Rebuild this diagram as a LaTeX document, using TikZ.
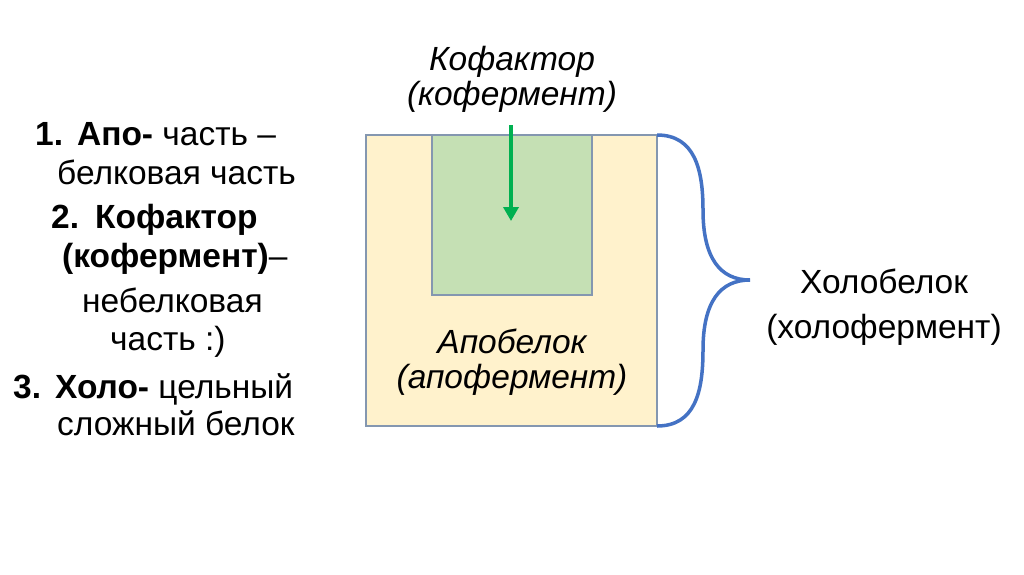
\documentclass[tikz,border=0pt]{standalone}
\usepackage{fontspec}
\setmainfont{Liberation Sans}
\usetikzlibrary{arrows.meta}
\definecolor{boxyellow}{HTML}{FFF2CC}
\definecolor{boxgreen}{HTML}{C5E0B4}
\definecolor{boxline}{HTML}{8497B0}
\definecolor{arrowgreen}{HTML}{00B050}
\definecolor{braceblue}{HTML}{4472C4}
\tikzset{
  listline/.style={anchor=base west, inner sep=0pt, font=\fontsize{33.5}{40}\selectfont},
  italabel/.style={anchor=base, inner sep=0pt, font=\fontsize{33.5}{40}\selectfont\itshape},
  sidelabel/.style={anchor=base, inner sep=0pt, font=\fontsize{33.5}{40}\selectfont},
}
\begin{document}
\begin{tikzpicture}[x=1pt,y=-1pt]
\useasboundingbox (0,0) rectangle (1024,574);
\fill[white] (0,0) rectangle (1024,574);
% boxes
\draw[boxline, line width=1.2pt, fill=boxyellow] (366,135) rectangle (657,426);
\draw[boxline, line width=1.2pt, fill=boxgreen] (432,135) rectangle (592,295);
% brace
\draw[braceblue, line width=3.5pt] (657,135) .. controls (695,135) and (703,170) .. (703,210)
  .. controls (703,258) and (720,280) .. (750,280)
  .. controls (720,280) and (703,302) .. (703,350)
  .. controls (703,392) and (695,426) .. (657,426);
% arrow
\coordinate (astart) at (511,125);
\coordinate (aend) at (511,221);
\draw[arrowgreen, line width=4.5pt, -{Triangle[length=14pt,width=15pt]}] (astart) -- (aend);
% labels
\node[italabel] (kof1) at (512,70) {Кофактор};
\node[italabel] (kof2) at (512,105) {(кофермент)};
\node[italabel] (apo1) at (512,353) {Апобелок};
\node[italabel] (apo2) at (512,388) {(апофермент)};
\node[sidelabel] (holo1) at (884,293) {Холобелок};
\node[sidelabel] (holo2) at (884,338) {(холофермент)};
% list
\node[listline] (l1) at (35,145) {\textbf{1.}\hspace{14pt}\textbf{Апо-} часть –};
\node[listline] (l2) at (57,184) {белковая часть};
\node[listline] (l3) at (51,228) {\textbf{2.}\hspace{16pt}\textbf{Кофактор}};
\node[listline] (l4) at (62,267) {\textbf{(кофермент)}–};
\node[listline] (l5) at (82,312) {небелковая};
\node[listline] (l6) at (110,350) {часть :)};
\node[listline] (l7) at (13,398) {\textbf{3.}\hspace{14pt}\textbf{Холо-} цельный};
\node[listline] (l8) at (57,435) {сложный белок};
\end{tikzpicture}
\end{document}
